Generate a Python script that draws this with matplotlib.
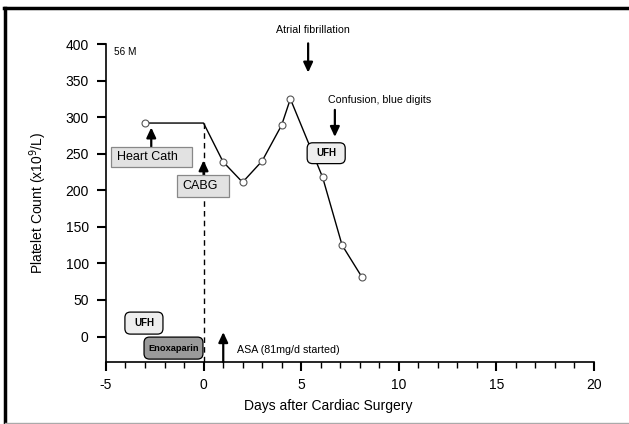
import matplotlib.pyplot as plt
from matplotlib.lines import Line2D
from matplotlib.patches import FancyBboxPatch

plt.rcParams['font.family'] = ['Liberation Sans', 'DejaVu Sans']
plt.rcParams['axes.unicode_minus'] = False

# platelet counts (x10^9/L) by day after surgery
days = [-3, 1, 2, 3, 4, 4.45, 6.1, 7.1, 8.1]
platelets = [292, 239, 211, 240, 289, 325, 218, 125, 82]
# line runs flat until surgery day
line_days = [-3, 0, 1, 2, 3, 4, 4.45, 6.1, 7.1, 8.1]
line_platelets = [292, 292, 239, 211, 240, 289, 325, 218, 125, 82]

xticks = [-5, 0, 5, 10, 15, 20]
yticks = [0, 50, 100, 150, 200, 250, 300, 350, 400]

fig = plt.figure(figsize=(6.29, 4.24), dpi=100)
ax = fig.add_axes([0.1685, 0.146, 0.7755, 0.750])

ax.plot(line_days, line_platelets, color='black', lw=1.0, zorder=3)
ax.plot(days, platelets, ls='none', marker='o', ms=5, mfc='white', mec='#555555',
        mew=0.8, zorder=4)
ax.plot([0, 0], [292, -35], color='black', lw=1.0, ls=(0, (4, 3)), zorder=2)

ax.set_xlim(-5, 20)
ax.set_ylim(-35, 400)
ax.set_xticks(xticks)
ax.set_xticks(range(-5, 21), minor=True)
ax.set_yticks(yticks)
ax.tick_params(axis='both', which='major', direction='out', length=6.5, width=1.5,
               labelsize=10)
ax.tick_params(axis='x', which='minor', direction='out', length=4, width=1)
ax.tick_params(axis='x', pad=5)
ax.tick_params(axis='y', pad=6)
for s in ['top', 'right']:
    ax.spines[s].set_visible(False)
for s in ['left', 'bottom']:
    ax.spines[s].set_linewidth(1.2)

ax.set_xlabel('Days after Cardiac Surgery', fontsize=10)
ax.xaxis.set_label_coords(0.455, -0.117)
ax.set_ylabel('Platelet Count (x10$^9$/L)', fontsize=10)
ax.yaxis.set_label_coords(-0.116, 0.5)

ax.text(-4.58, 389, '56 M', fontsize=7.2, va='center')

arrow = dict(arrowstyle='-|>,head_length=0.6,head_width=0.28', color='black', lw=1.6,
             shrinkA=0, shrinkB=0)

# aspect of data units so rounded corners look round
asp = (1 / 0.731) / (1 / 19.52)


def box(x0, x1, y0, y1, fc, ec, rounded):
    style = 'round,pad=0,rounding_size=0.28' if rounded else 'square,pad=0'
    p = FancyBboxPatch((x0, y0), x1 - x0, y1 - y0, boxstyle=style, fc=fc, ec=ec,
                       lw=0.9, mutation_aspect=asp, zorder=5, clip_on=False)
    ax.add_patch(p)


box(-4.74, -0.59, 232.3, 259.7, '#e2e2e2', '#888888', False)
ax.text(-4.45, 246, 'Heart Cath', fontsize=9, va='center', ha='left', zorder=6)
ax.annotate('', xy=(-2.68, 286), xytext=(-2.68, 259.7), arrowprops=arrow)

box(-1.36, 1.30, 191.5, 221.5, '#e2e2e2', '#888888', False)
ax.text(-1.08, 206, 'CABG', fontsize=9, va='center', ha='left', zorder=6)
ax.annotate('', xy=(0, 241), xytext=(0, 221.5), arrowprops=arrow)

ax.annotate('', xy=(5.36, 361), xytext=(5.36, 401), arrowprops=arrow,
            annotation_clip=False)
ax.text(5.61, 419, 'Atrial fibrillation', fontsize=7.7, ha='center', va='center',
        clip_on=False)

ax.annotate('', xy=(6.73, 273), xytext=(6.73, 310), arrowprops=arrow)
ax.text(6.37, 323.6, 'Confusion, blue digits', fontsize=7.7, ha='left', va='center')

box(5.31, 7.26, 236.5, 265, '#eeeeee', 'black', True)
ax.text(6.285, 250.5, 'UFH', fontsize=7, fontweight='bold', ha='center', va='center',
        zorder=6)
box(-4.03, -2.08, 3.3, 33.4, '#eeeeee', 'black', True)
ax.text(-3.055, 18.3, 'UFH', fontsize=7, fontweight='bold', ha='center', va='center',
        zorder=6)
box(-3.05, -0.03, -30.9, -0.8, '#9a9a9a', 'black', True)
ax.text(-1.54, -15.9, 'Enoxaparin', fontsize=6.7, fontweight='bold', ha='center',
        va='center', zorder=6)

ax.annotate('', xy=(1.01, 6), xytext=(1.01, -35), arrowprops=arrow)
ax.text(1.71, -18.6, 'ASA (81mg/d started)', fontsize=7.7, ha='left', va='center')

# figure frame
fig.add_artist(Line2D([0.007, 1.0], [0.980, 0.980], color='black', lw=2.5,
                      transform=fig.transFigure))
fig.add_artist(Line2D([0.008, 0.008], [0.0, 0.980], color='black', lw=2.5,
                      transform=fig.transFigure))
fig.add_artist(Line2D([0.008, 1.0], [0.003, 0.003], color='#aaaaaa', lw=1,
                      transform=fig.transFigure))

fig.savefig('out.png', dpi=100)
